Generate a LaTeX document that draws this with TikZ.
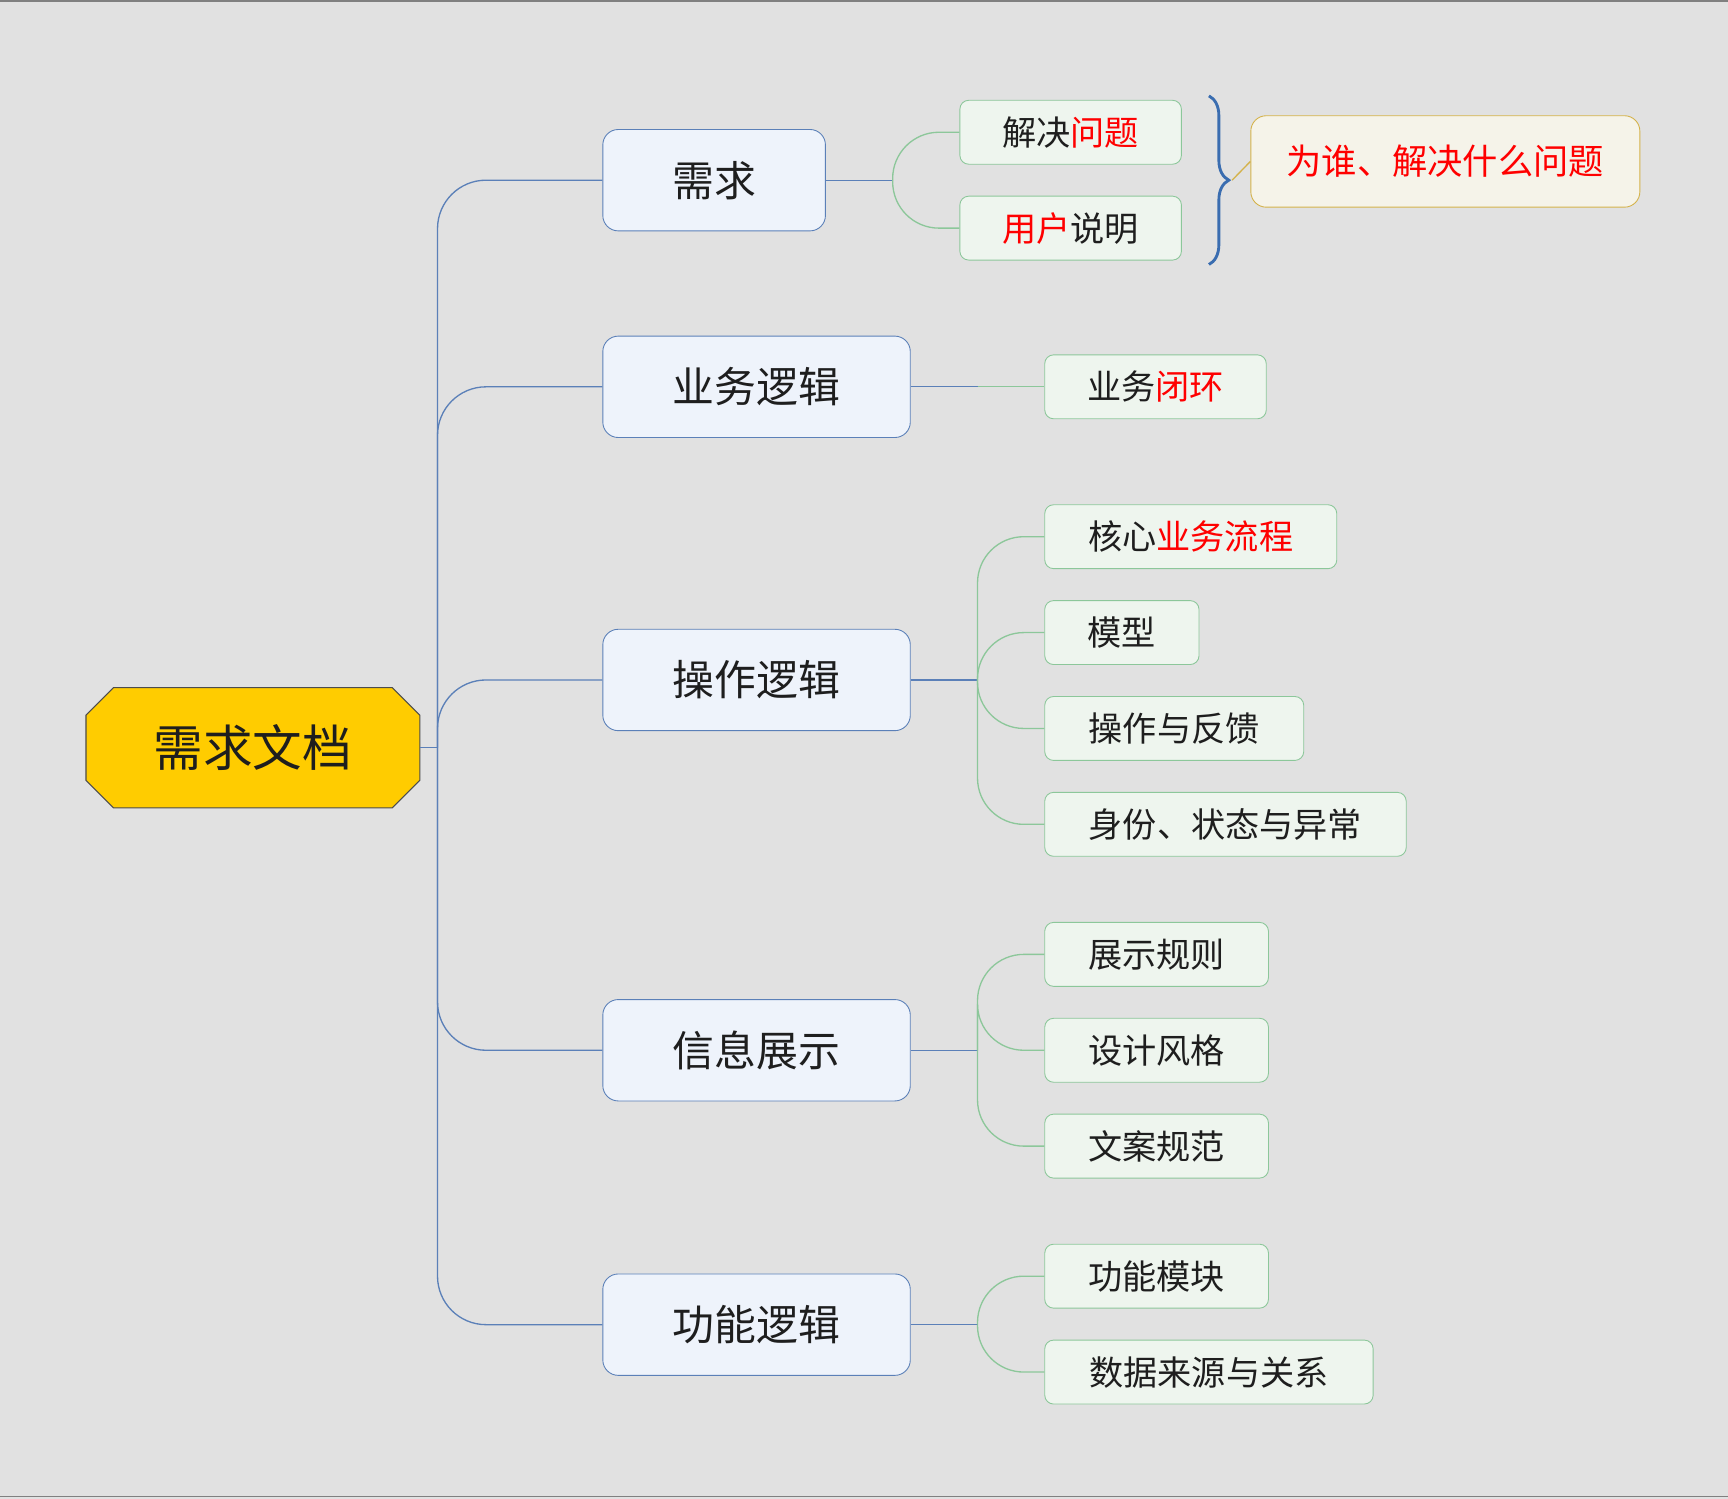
\documentclass[tikz,border=0pt]{standalone}
\usepackage{fontspec}
\setmainfont{Noto Sans CJK SC}
\usetikzlibrary{decorations.pathreplacing}
\definecolor{bg}{HTML}{E1E1E1}
\definecolor{blueb}{HTML}{5B80B8}
\definecolor{bluef}{HTML}{EEF3FB}
\definecolor{greenb}{HTML}{8CC79A}
\definecolor{greenf}{HTML}{EEF5EE}
\definecolor{txt}{HTML}{1E1E1E}
\definecolor{rootf}{HTML}{FFCC00}
\definecolor{sumf}{HTML}{F5F3E9}
\definecolor{sumb}{HTML}{D4B24A}
\definecolor{brc}{HTML}{3A6DB0}
\tikzset{
 child/.style={draw=blueb,fill=bluef,rounded corners=7pt,inner sep=0pt,minimum height=46pt,font=\fontsize{19}{21}\selectfont,text=txt},
 leaf/.style={draw=greenb,fill=greenf,rounded corners=4pt,inner sep=0pt,minimum height=29pt,font=\fontsize{15.5}{18}\selectfont,text=txt},
 bl/.style={draw=blueb,line width=0.6pt},
 gl/.style={draw=greenb,line width=0.6pt},
}
\newcommand{\rd}[1]{\textcolor{red}{#1}}
\begin{document}
\begin{tikzpicture}[x=0.5pt,y=-0.5pt]
\fill[bg] (0,0) rectangle (1568,1360);
\useasboundingbox (0,0) rectangle (1568,1360);
\draw[gray,line width=0.8pt] (0,1) -- (1568,1);
\draw[gray,line width=0.8pt] (0,1358) -- (1568,1358);
\filldraw[draw=black!70,fill=rootf,line width=0.5pt] (103,624) -- (356,624) -- (381,649) -- (381,708) -- (356,733) -- (103,733) -- (78,708) -- (78,649) -- cycle;
\node[inner sep=0pt,minimum width=151.5pt,minimum height=54.5pt,font=\fontsize{22.5}{24}\selectfont,text=txt] (root) at (229.5,678.5) {需求文档};
\node[child,minimum width=101pt] (c1) at (648,163.5) {需求};
\node[child,minimum width=139.5pt] (c2) at (686.5,351) {业务逻辑};
\node[child,minimum width=139.5pt] (c3) at (686.5,617) {操作逻辑};
\node[child,minimum width=139.5pt] (c4) at (686.5,953) {信息展示};
\node[child,minimum width=139.5pt] (c5) at (686.5,1202) {功能逻辑};
\coordinate (tr) at (397,678.5);
\draw[bl] (root.east) -- (tr);
\foreach \c in {c1,c2,c3,c4,c5} \draw[bl,rounded corners=22pt] (tr) |- (\c.west);
\node[leaf,minimum width=100.5pt] (l1) at (971.5,120) {解决\rd{问题}};
\node[leaf,minimum width=100.5pt] (l2) at (971.5,207) {\rd{用户}说明};
\node[leaf,minimum width=100.5pt] (l3) at (1048.5,351) {业务\rd{闭环}};
\node[leaf,minimum width=132.5pt] (l4) at (1080.5,487) {核心\rd{业务流程}};
\node[leaf,minimum width=70pt] (l5) at (1018,574) {模型};
\node[leaf,minimum width=117.5pt] (l6) at (1065.5,661) {操作与反馈};
\node[leaf,minimum width=164pt] (l7) at (1112,748) {身份、状态与异常};
\node[leaf,minimum width=101.5pt] (l8) at (1049.5,866) {展示规则};
\node[leaf,minimum width=101.5pt] (l9) at (1049.5,953) {设计风格};
\node[leaf,minimum width=101.5pt] (l10) at (1049.5,1040) {文案规范};
\node[leaf,minimum width=101.5pt] (l11) at (1049.5,1158) {功能模块};
\node[leaf,minimum width=149pt] (l12) at (1097,1245) {数据来源与关系};
\coordinate (b1) at (810,163.5);
\draw[bl] (c1.east) -- (b1);
\foreach \l in {l1,l2} \draw[gl,rounded corners=21pt] (b1) |- (\l.west);
\coordinate (b2) at (887,351);
\draw[bl] (c2.east) -- (b2);
\draw[gl] (b2) -- (l3.west);
\coordinate (b3) at (887,617);
\draw[bl] (c3.east) -- (b3);
\foreach \l in {l4,l5,l6,l7} \draw[gl,rounded corners=21pt] (b3) |- (\l.west);
\coordinate (b4) at (887,953);
\draw[bl] (c4.east) -- (b4);
\foreach \l in {l8,l9,l10} \draw[gl,rounded corners=21pt] (b4) |- (\l.west);
\coordinate (b5) at (887,1202);
\draw[bl] (c5.east) -- (b5);
\foreach \l in {l11,l12} \draw[gl,rounded corners=21pt] (b5) |- (\l.west);
\coordinate (bt) at (1097,87);
\coordinate (bb) at (1097,240);
\draw[brc,line width=1.3pt,decorate,decoration={brace,amplitude=9pt}] (bt) -- (bb);
\coordinate (btip) at (1118,163.5);
\node[draw=sumb,fill=sumf,rounded corners=7pt,inner sep=0pt,minimum width=176.5pt,minimum height=41.5pt,font=\fontsize{16}{18}\selectfont,text=red] (sum) at (1311.5,146.5) {为谁、解决什么问题};
\draw[sumb,line width=0.6pt] (btip) -- (sum.west);
\end{tikzpicture}
\end{document}
